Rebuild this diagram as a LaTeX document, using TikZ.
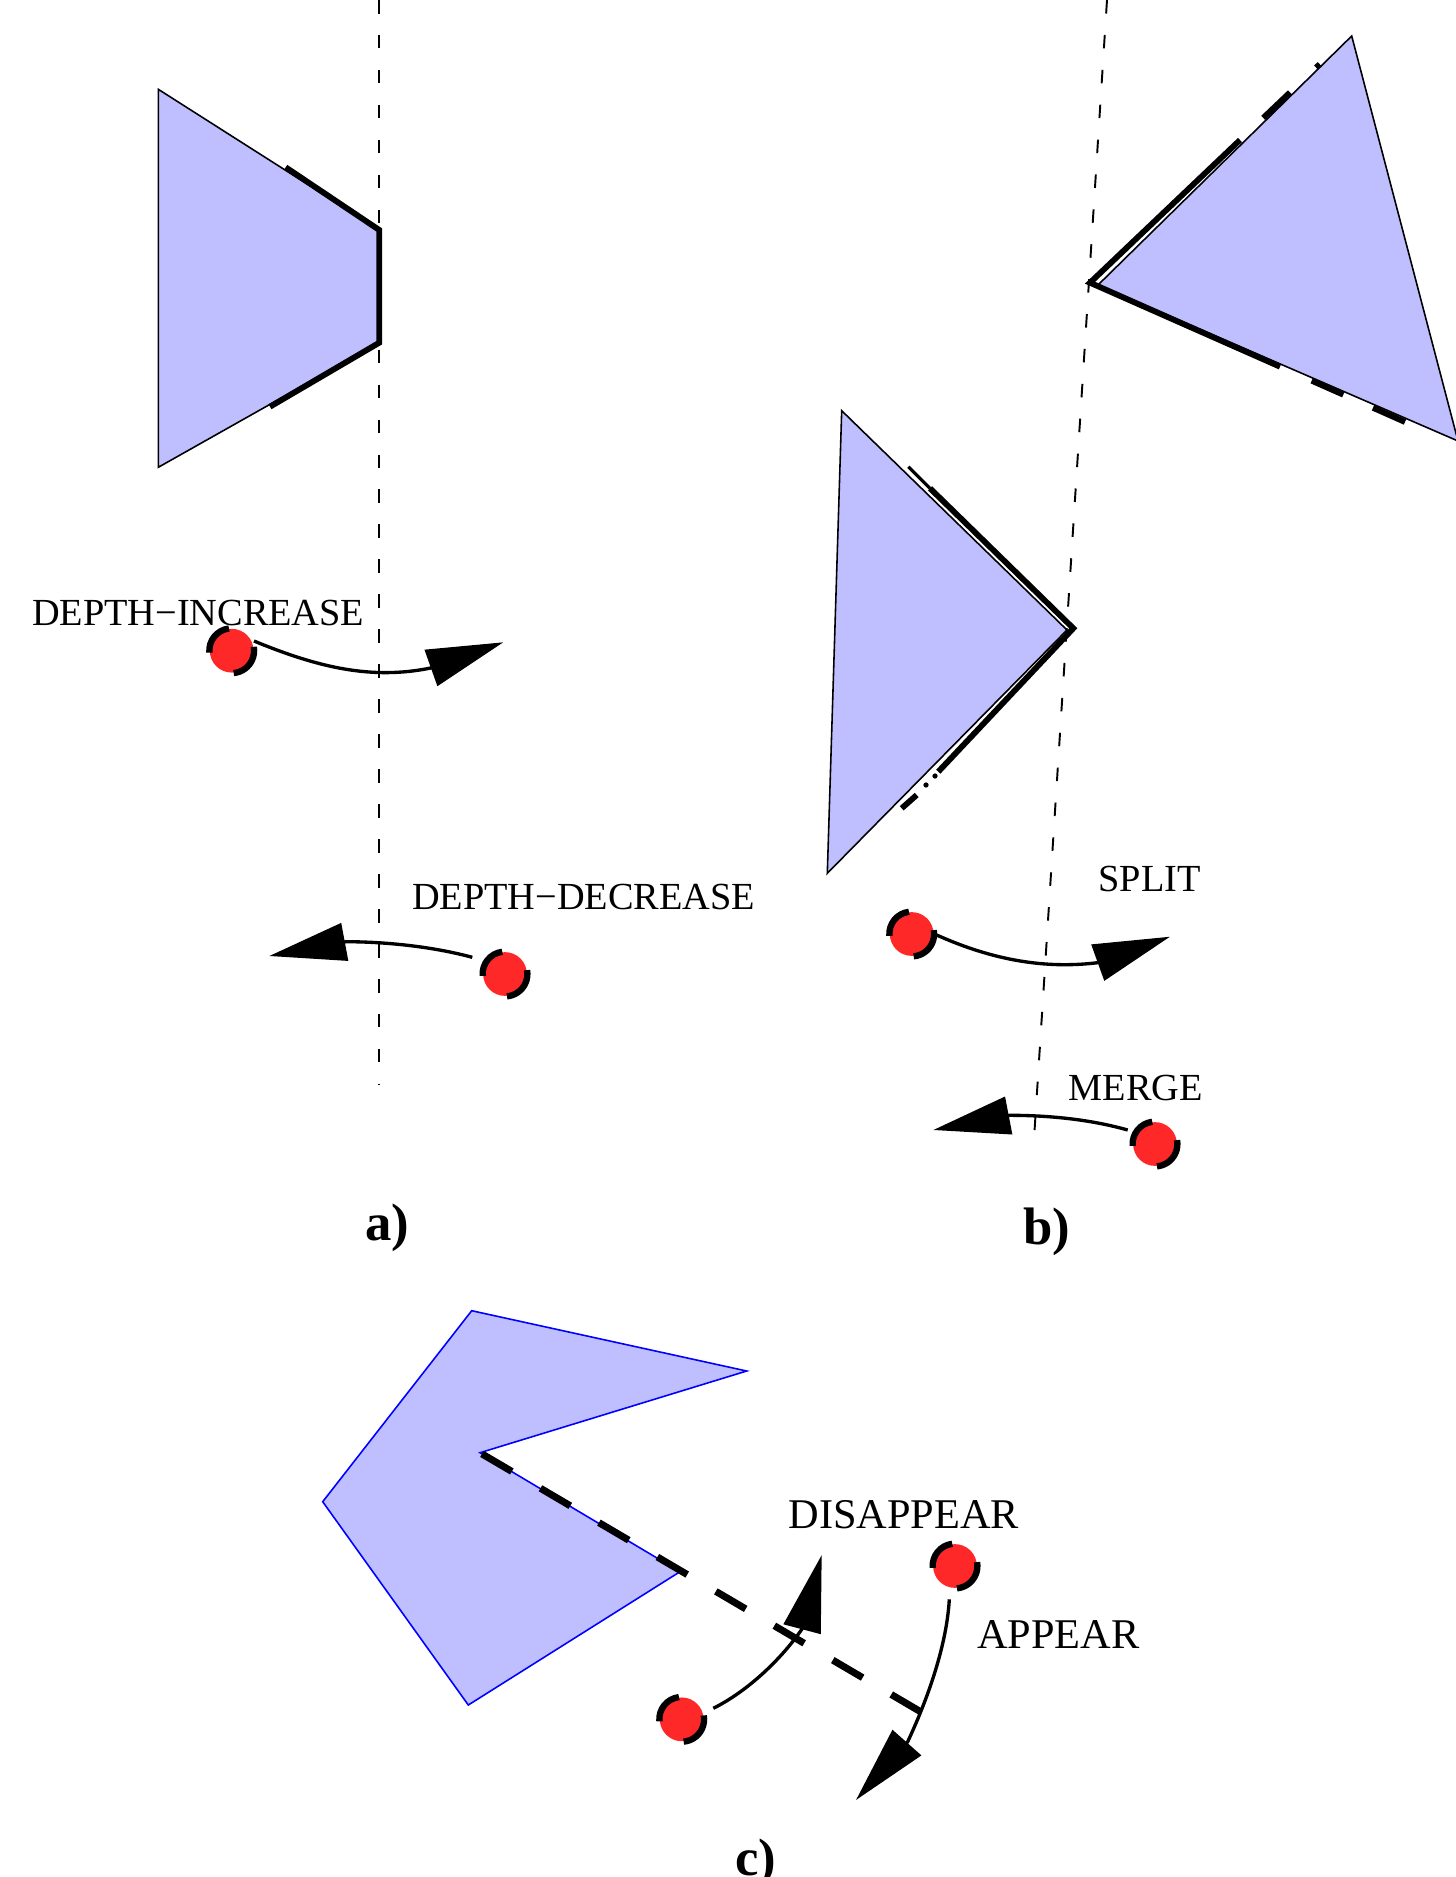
\documentclass[tikz,border=0pt]{standalone}
\usepackage{fontspec}
\setmainfont{Liberation Serif}
\usetikzlibrary{arrows.meta}
\definecolor{polyfill}{RGB}{191,191,255}
\definecolor{dotred}{RGB}{255,40,40}
\definecolor{polyblue}{RGB}{0,0,255}
\tikzset{
 poly/.style={fill=polyfill, draw=black, line width=0.9pt, line join=miter},
 polyc/.style={fill=polyfill, draw=polyblue, line width=0.9pt},
 refline/.style={draw=black, line width=1.1pt, dash pattern=on 7.7pt off 12.2pt},
 silh/.style={draw=black, line width=3.3pt, line join=miter},
 thinsilh/.style={draw=black, line width=1.8pt},
 edgedash/.style={draw=black, line width=4pt, dash pattern=on 19.7pt off 18.9pt},
 dot/.style={circle, fill=dotred, inner sep=0pt, minimum size=24.9pt},
 dotarc/.style={draw=black, line width=3.6pt},
 move/.style={draw=black, line width=1.9pt, -{Triangle[length=43.7pt,width=21.5pt]}},
 lab/.style={inner sep=0pt, anchor=base west, font=\fontsize{21.8pt}{25pt}\selectfont},
 labc/.style={inner sep=0pt, anchor=base west, font=\fontsize{24.1pt}{29pt}\selectfont},
 panel/.style={inner sep=0pt, anchor=base west, font=\fontsize{30pt}{36pt}\selectfont\bfseries},
}
\newcommand\dotarcs[1]{%
 \draw[dotarc] ([shift={(97:12.75pt)}]#1.center) arc[start angle=97,end angle=185,radius=12.75pt];
 \draw[dotarc] ([shift={(275:12.75pt)}]#1.center) arc[start angle=275,end angle=370,radius=12.75pt];}
\begin{document}
\begin{tikzpicture}[x=0.02cm,y=-0.02cm]
\useasboundingbox (0,0) rectangle (1455,1877);
% ---------------- a) ----------------
\path[poly] (158.3,89.3) -- (379.3,230) -- (379.3,342.7) -- (158.3,467.3) -- cycle;
\draw[refline] (378.7,0) -- (378.7,1085);
\draw[silh] (285.7,167.3) -- (379.3,230) -- (379.3,342.7) -- (270,406.7);
\node[lab] (tinc) at (31.7,625) {DEPTH−INCREASE};
\node[lab] (tdec) at (411.7,909.3) {DEPTH−DECREASE};
\node[dot] (d1) at (231.7,650.7) {};
\node[dot] (d2) at (505,974) {};
\dotarcs{d1}
\dotarcs{d2}
\coordinate (a1s) at (254,641);
\coordinate (a1b) at (430.7,668);
\coordinate (a1e) at (503.3,642.3);
\coordinate (a2s) at (472.3,957.3);
\coordinate (a2b) at (345.8,941.7);
\coordinate (a2e) at (269.3,956);
\draw[move] (a1s) .. controls (318.7,667.7) and (371.9,680) .. (a1b) -- (a1e);
\draw[move] (a2s) .. controls (428.9,945.6) and (380.8,941.7) .. (a2b) -- (a2e);
\node[panel] (pa) at (365,1240) {a)};
% ---------------- b) ----------------
\path[poly] (1351.7,36) -- (1098,285) -- (1458,441) -- cycle;
\path[poly] (841.7,410.7) -- (1067,630) -- (827.3,873.3) -- cycle;
\draw[refline] (1107,0) -- (1034.5,1131);
\draw[silh] (1240,140) -- (1090,282.7) -- (1280,366.7);
\draw[silh] (1263.2,117.9) -- (1290,92.4);
\draw[silh] (1316.1,67.6) -- (1319.7,64.2);
\draw[silh] (1311.7,380.7) -- (1343.3,394.7);
\draw[silh] (1373,407.8) -- (1405,422);
\draw[thinsilh] (908.3,466.7) -- (930,488.3);
\draw[silh] (930,488.3) -- (1073.3,628.3) -- (938.3,771.7);
\fill (935,776) circle[radius=1.5pt];
\fill (926,785) circle[radius=1.5pt];
\draw[silh] (916.7,795) -- (901.7,808.3);
\node[lab] (tsplit) at (1098.3,891.7) {SPLIT};
\node[lab] (tmerge) at (1068.3,1100.7) {MERGE};
\node[dot] (d3) at (911.7,934) {};
\node[dot] (d4) at (1155,1144) {};
\dotarcs{d3}
\dotarcs{d4}
\coordinate (b1s) at (936.7,935);
\coordinate (b1b) at (1097.5,962.7);
\coordinate (b1e) at (1170,936.7);
\coordinate (b2s) at (1127.7,1130);
\coordinate (b2b) at (1009.7,1115.3);
\coordinate (b2e) at (933.3,1130);
\draw[move] (b1s) .. controls (1000.5,963.7) and (1053,968.1) .. (b1b) -- (b1e);
\draw[move] (b2s) .. controls (1084.4,1117.7) and (1039.7,1115.3) .. (b2b) -- (b2e);
\node[panel] (pb) at (1023.3,1244) {b)};
% ---------------- c) ----------------
\path[polyc] (471.7,1310.7) -- (746.7,1371) -- (480,1452.7) -- (680,1571.7) -- (468.3,1705) -- (322.7,1501.7) -- cycle;
\draw[edgedash] (482,1453.9) -- (923.3,1713.3);
\node[labc] (tdis) at (788.3,1528.3) {DISAPPEAR};
\node[labc] (tapp) at (976.7,1648.3) {APPEAR};
\node[dot] (d5) at (681.7,1719.3) {};
\node[dot] (d6) at (955,1566) {};
\dotarcs{d5}
\dotarcs{d6}
\coordinate (c1s) at (713.3,1708.3);
\coordinate (c1b) at (802.2,1628.7);
\coordinate (c1e) at (821.7,1555);
\coordinate (c2s) at (949.3,1599.3);
\coordinate (c2b) at (907.7,1741.7);
\coordinate (c2e) at (856,1800);
\draw[move] (c1s) .. controls (749.1,1690.4) and (782.4,1657.6) .. (c1b) -- (c1e);
\draw[move] (c2s) .. controls (946.5,1649.2) and (924.6,1705.5) .. (c2b) -- (c2e);
\node[panel] (pc) at (735,1875) {c)};
\end{tikzpicture}
\end{document}
